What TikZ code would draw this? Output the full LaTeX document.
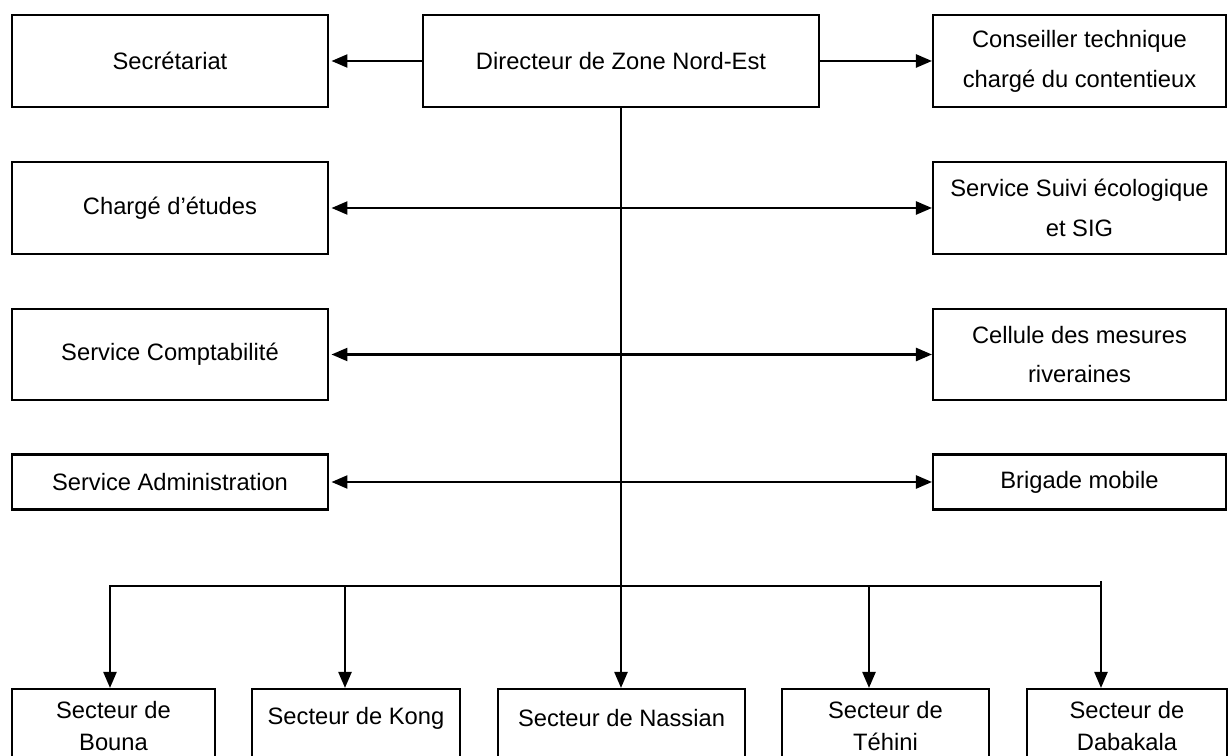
\documentclass[tikz,border=0pt]{standalone}
\usepackage{fontspec}
\setmainfont{Liberation Sans}
\usetikzlibrary{arrows.meta,calc}
\begin{document}
\begin{tikzpicture}[x=0.02cm,y=-0.02cm,
  box/.style={draw,line width=1.5pt,inner sep=0pt,outer sep=0pt,align=center,
    font=\fontsize{13.5}{22.7}\selectfont},
  lbl/.style={inner sep=0pt,align=center,font=\fontsize{13.5}{18}\selectfont},
  conn/.style={line width=1.35pt},
  tip/.tip={Triangle[length=0.32cm,width=0.26cm]},
  arr/.style={conn,-tip,shorten >=0.6pt},
  larr/.style={conn,-tip,shorten >=2pt},
  darr/.style={conn,tip-tip,shorten <=2pt,shorten >=0.6pt}]
\useasboundingbox (0,0) rectangle (1228,756);
\clip (0,0) rectangle (1228,756);
% top row
\node[box,minimum width=6.32cm,minimum height=1.84cm] (sec) at (170,61) {Secrétariat};
\node[box,minimum width=7.92cm,minimum height=1.84cm] (dir) at (621,61) {Directeur de Zone Nord-Est};
\node[box,minimum width=5.86cm,minimum height=1.84cm] (cons) at (1079.5,61) {Conseiller technique\\chargé du contentieux};
% middle rows
\node[box,minimum width=6.32cm,minimum height=1.84cm] (charge) at (170,208) {Chargé d’études};
\node[box,minimum width=5.86cm,minimum height=1.84cm] (suivi) at (1079.5,208) {Service Suivi écologique\\et SIG};
\node[box,minimum width=6.32cm,minimum height=1.82cm] (compta) at (170,354.5) {Service Comptabilité};
\node[box,minimum width=5.86cm,minimum height=1.82cm] (cellule) at (1079.5,354.5) {Cellule des mesures\\riveraines};
\node[box,minimum width=6.32cm,minimum height=1.10cm] (admin) at (170,482) {Service Administration};
\node[box,minimum width=5.86cm,minimum height=1.10cm] (brigade) at (1079.5,482) {Brigade mobile};
% bottom row (boxes run off the lower edge)
\node[box,minimum width=4.06cm,minimum height=1.80cm] (bouna) at (113.5,734) {};
\node[box,minimum width=4.16cm,minimum height=1.80cm] (kong) at (356,734) {};
\node[box,minimum width=4.94cm,minimum height=1.80cm] (nassian) at (621.5,734) {};
\node[box,minimum width=4.14cm,minimum height=1.80cm] (tehini) at (885.5,734) {};
\node[box,minimum width=4.00cm,minimum height=1.80cm] (dabakala) at (1127,734) {};
\node[lbl] (tbouna) at ($(bouna.north)+(0,37)$) {Secteur de\\Bouna};
\node[lbl] (tkong) at ($(kong.north)+(0,29)$) {Secteur de Kong};
\node[lbl] (tnassian) at ($(nassian.north)+(0,29)$) {Secteur de Nassian};
\node[lbl] (ttehini) at ($(tehini.north)+(0,37)$) {Secteur de\\Téhini};
\node[lbl] (tdabakala) at ($(dabakala.north)+(0,37)$) {Secteur de\\Dabakala};
% connectors
\draw[larr] (dir.west) -- (sec.east);
\draw[arr] (dir.east) -- (cons.west);
\draw[darr] (charge.east) -- (suivi.west);
\draw[darr] (compta.east) -- (cellule.west);
\draw[darr] (admin.east) -- (brigade.west);
\draw[arr] (dir.south) -- (dir.south |- nassian.north);
\coordinate (j1) at (110,586);
\coordinate (j2) at (345,586);
\coordinate (j4) at (869,586);
\coordinate (j5) at (1101,586);
\coordinate (jt) at (1101,581);
\draw[arr] (jt) -- (j5) -- (j1) -- (j1 |- bouna.north);
\draw[arr] (j2) -- (j2 |- kong.north);
\draw[arr] (j4) -- (j4 |- tehini.north);
\draw[arr] (j5) -- (j5 |- dabakala.north);
\end{tikzpicture}
\end{document}
